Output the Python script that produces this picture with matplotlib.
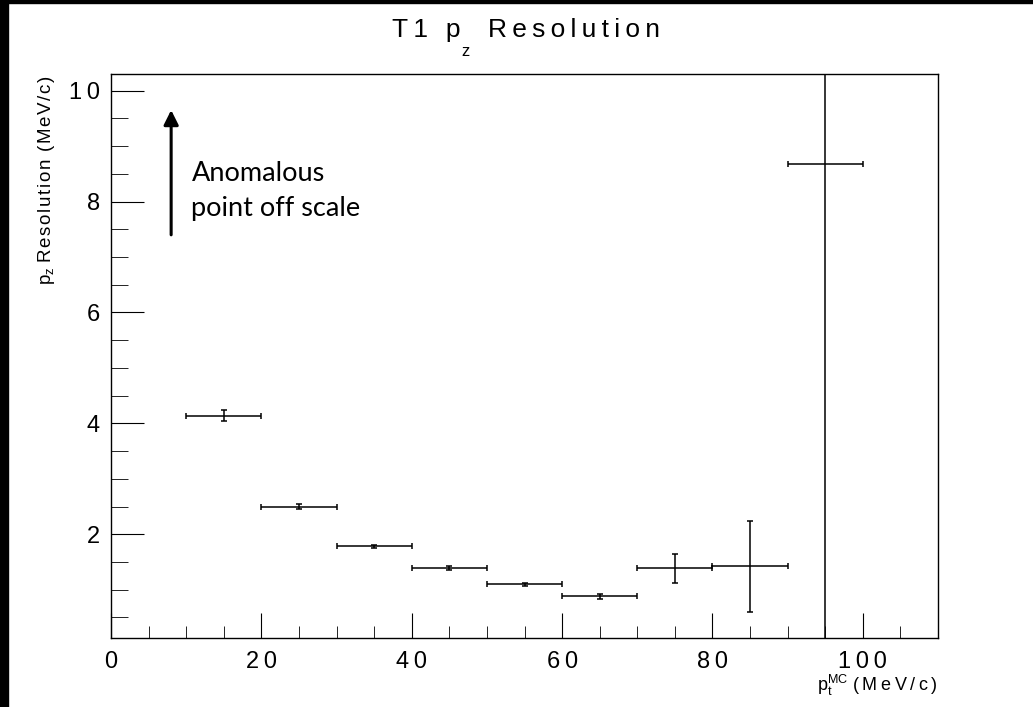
import matplotlib
matplotlib.use('Agg')
import matplotlib.pyplot as plt
from matplotlib.patches import Rectangle
from matplotlib.ticker import MultipleLocator, FuncFormatter

plt.rcParams['font.family'] = ['Liberation Sans', 'DejaVu Sans']
plt.rcParams['mathtext.fontset'] = 'custom'
plt.rcParams['mathtext.rm'] = 'Liberation Sans'
plt.rcParams['mathtext.it'] = 'Liberation Sans'

# bins of p_t^MC (MeV/c)
pt_center = [15, 25, 35, 45, 55, 65, 75, 85, 95]
pt_halfwidth = [5, 5, 5, 5, 5, 5, 5, 5, 5]
pz_res = [4.14, 2.50, 1.78, 1.39, 1.10, 0.88, 1.39, 1.42, 8.67]
pz_err = [0.10, 0.04, 0.03, 0.03, 0.03, 0.05, 0.26, 0.82, 50.0]


def spaced(s, sp='\u2009'):
    # ROOT-style loose letter spacing
    return sp.join(s)


fig = plt.figure(figsize=(10.33, 7.07), dpi=100)
fig.patches.append(Rectangle((0, 0), 8 / 1033, 1, transform=fig.transFigure,
                             color='black', zorder=0))
fig.patches.append(Rectangle((0, 1 - 3 / 707), 1, 3 / 707, transform=fig.transFigure,
                             color='black', zorder=0))

ax = fig.add_axes([111 / 1033, 69 / 707, 827 / 1033, 564 / 707])
ax.errorbar(pt_center, pz_res, xerr=pt_halfwidth, yerr=pz_err, fmt='none',
            ecolor='black', elinewidth=1.1, capsize=2.2, capthick=1.1)

ax.set_xlim(0, 110)
ax.set_ylim(0.13, 10.3)
ax.xaxis.set_major_locator(MultipleLocator(20))
ax.xaxis.set_minor_locator(MultipleLocator(5))
ax.yaxis.set_major_locator(MultipleLocator(2))
ax.yaxis.set_minor_locator(MultipleLocator(0.5))
fmt = FuncFormatter(lambda v, p: spaced(str(int(round(v)))))
ax.xaxis.set_major_formatter(fmt)
ax.yaxis.set_major_formatter(fmt)
ax.tick_params(which='both', direction='in', top=False, right=False, labelsize=17)
ax.tick_params(axis='x', which='major', length=18, pad=9)
ax.tick_params(axis='x', which='minor', length=9)
ax.tick_params(axis='y', which='major', length=24, pad=8)
ax.tick_params(axis='y', which='minor', length=12)
for s in ax.spines.values():
    s.set_linewidth(1.0)

ax.annotate('', xy=(8.0, 9.7), xytext=(8.0, 7.35),
            arrowprops=dict(arrowstyle='-|>', color='black', lw=2.2,
                            mutation_scale=22))
ax.text(10.7, 8.19, 'Anomalous\npoint off scale', fontsize=19.5, family='Lato',
        va='center', ha='left', linespacing=1.52)

# title, with the low-set ROOT subscript
fig.text(392 / 1033, 1 - 37 / 707, spaced('T1 p'), ha='left', va='baseline',
         fontsize=19)
fig.text(466 / 1033, 1 - 51 / 707, 'z', ha='center', va='center', fontsize=12)
fig.text(488 / 1033, 1 - 37 / 707, spaced('Resolution'), ha='left',
         va='baseline', fontsize=19)

fig.text(47 / 1033, 1 - 75 / 707,
         spaced('p', '\u200a') + '$_z$ ' + spaced('Resolution (MeV/c)', '\u200a'),
         rotation=90, ha='center', va='top', fontsize=13.5)
fig.text(938 / 1033, 1 - 698 / 707, 'p$_t^{MC}$ ' + spaced('(MeV/c)'),
         ha='right', va='bottom', fontsize=13)

fig.savefig('out.png', dpi=100, facecolor='white')
